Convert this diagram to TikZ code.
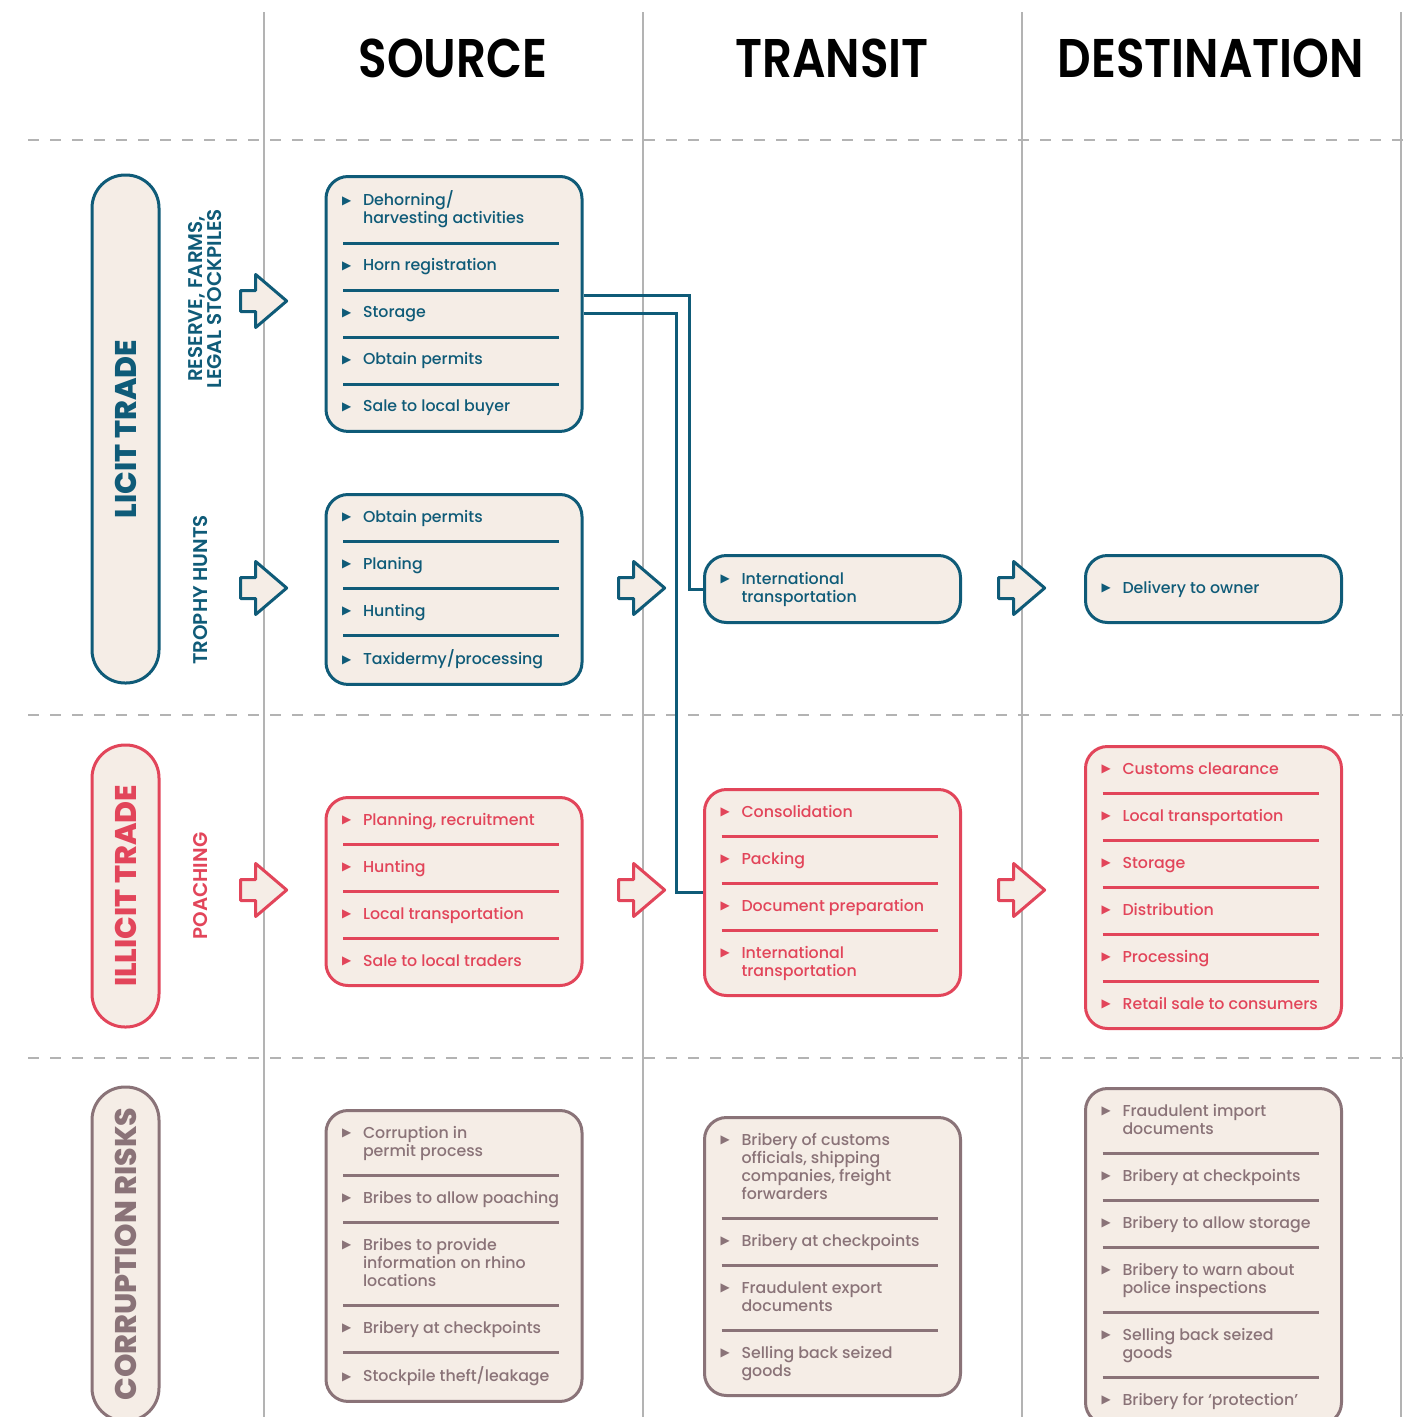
\documentclass[tikz,border=0pt]{standalone}
\usepackage{fontspec}
\setmainfont{Poppins}
\newfontfamily\itmfont{Poppins Medium}
\newfontfamily\semifont{Poppins SemiBold}
\newfontfamily\pillfont{Poppins ExtraBold}
\newfontfamily\headfont{Poppins SemiBold}[FakeStretch=0.86]
\newfontfamily\symfont{DejaVu Sans}
\usepackage{xcolor}
\usetikzlibrary{shapes.arrows,positioning}

\definecolor{licitblue}{HTML}{0F5B78}
\definecolor{illicitred}{HTML}{E2455A}
\definecolor{corruptmauve}{HTML}{8A7378}
\definecolor{boxfill}{HTML}{F5EDE6}
\definecolor{gridgray}{HTML}{B3B3B3}

% one pixel of the layout grid
\newdimen\px \px=0.02cm
\newcommand{\bul}{\raisebox{0.7pt}{\symfont\fontsize{6.8}{6.8}\selectfont ▶}}
\newcommand{\itmstrut}{\rule[-5\px]{0pt}{18\px}}
\newcommand{\itm}[1]{\nointerlineskip\vbox{\vskip14.5\px
  \hbox to 256\px{\hskip16\px\makebox[21\px][l]{\bul}%
    \parbox[t]{215\px}{\raggedright\setlength{\baselineskip}{18\px}\itmstrut#1\itmstrut}\hss}%
  \vskip14.5\px}}
\newcommand{\sep}{\nointerlineskip\vbox to 0pt{\vss\hbox{\hskip17\px\rule{216\px}{3\px}}\vss}}
\newcommand{\itms}[1]{\vbox{#1}}

\begin{document}
\begin{tikzpicture}[
  x=0.02cm, y=-0.02cm,
  font=\itmfont\fontsize{9}{11}\selectfont,
  colline/.style={draw=gridgray, line width=2\px},
  rowline/.style={draw=gridgray, line width=2\px, dash pattern=on 11\px off 11\px},
  head/.style={font=\headfont\fontsize{31}{31}\selectfont, text=black},
  pill/.style={draw=#1, text=#1, fill=boxfill, line width=3\px, rounded corners=33\px,
               minimum height=67\px, rotate=90, inner sep=0pt,
               font=\pillfont\fontsize{17}{17}\selectfont},
  sublbl/.style={text=#1, rotate=90, align=center,
                 font=\semifont\fontsize{11.3}{11}\selectfont},
  stepbox/.style={draw=#1, text=#1, fill=boxfill, line width=3\px, rounded corners=22\px,
                  inner sep=0pt, anchor=north},
  blockarr/.style={single arrow, draw=#1, fill=boxfill, line width=3\px, line join=round,
                   minimum height=46\px, single arrow head extend=16\px,
                   single arrow tip angle=81, inner xsep=0pt, inner ysep=9\px, anchor=tip},
  conn/.style={draw=licitblue, line width=3\px}
]
\useasboundingbox (0,0) rectangle (1408,1417);

% grid
\draw[colline] (264,12) -- (264,1417);
\draw[colline] (643,12) -- (643,1417);
\draw[colline] (1022,12) -- (1022,1417);
\draw[colline] (1401,12) -- (1401,1417);
\draw[rowline] (28,140) -- (1408,140);
\draw[rowline] (28,715) -- (1408,715);
\draw[rowline] (28,1058) -- (1408,1058);

\node[head] (hdsrc) at (453,58) {SOURCE};
\node[head] (hdtrn) at (832,58) {TRANSIT};
\node[head] (hddst) at (1211,58) {DESTINATION};

\node[pill=licitblue, minimum width=508\px] (pllicit) at (125.5,429) {LICIT TRADE};
\node[pill=illicitred, minimum width=282\px] (plillicit) at (125.5,886) {ILLICIT TRADE};
\node[pill=corruptmauve, minimum width=334\px] (plcorrupt) at (125.5,1254) {CORRUPTION RISKS};

\node[sublbl=licitblue] (lbres) at (205,299) {RESERVE, FARMS,\\LEGAL STOCKPILES};
\node[sublbl=licitblue] (lbtro) at (201,590) {TROPHY HUNTS};
\node[sublbl=illicitred] (lbpoa) at (201,886) {POACHING};

% source
\node[stepbox=licitblue] (srcres) at (454,175)
  {\itms{\itm{Dehorning/\\harvesting activities}\sep\itm{Horn registration}\sep
   \itm{Storage}\sep\itm{Obtain permits}\sep\itm{Sale to local buyer}}};
\node[stepbox=licitblue] (srctro) at (454,493)
  {\itms{\itm{Obtain permits}\sep\itm{Planing}\sep\itm{Hunting}\sep\itm{Taxidermy/processing}}};
\node[stepbox=illicitred] (srcpoa) at (454,796)
  {\itms{\itm{Planning, recruitment}\sep\itm{Hunting}\sep\itm{Local transportation}\sep
   \itm{Sale to local traders}}};
\node[stepbox=corruptmauve] (srccor) at (454,1109)
  {\itms{\itm{Corruption in\\permit process}\sep\itm{Bribes to allow poaching}\sep
   \itm{Bribes to provide\\information on rhino\\locations}\sep
   \itm{Bribery at checkpoints}\sep\itm{Stockpile theft/leakage}}};

% transit
\node[stepbox=licitblue, minimum height=67\px] (trnlic) at (832.5,554)
  {\itms{\itm{International\\transportation}}};
\node[stepbox=illicitred] (trnill) at (832.5,788)
  {\itms{\itm{Consolidation}\sep\itm{Packing}\sep\itm{Document preparation}\sep
   \itm{International\\transportation}}};
\node[stepbox=corruptmauve] (trncor) at (832.5,1116)
  {\itms{\itm{Bribery of customs\\officials, shipping\\companies, freight\\forwarders}\sep
   \itm{Bribery at checkpoints}\sep\itm{Fraudulent export\\documents}\sep
   \itm{Selling back seized\\goods}}};

% destination
\node[stepbox=licitblue, minimum height=67\px] (dstlic) at (1213.5,554)
  {\itms{\itm{Delivery to owner}}};
\node[stepbox=illicitred] (dstill) at (1213.5,745)
  {\itms{\itm{Customs clearance}\sep\itm{Local transportation}\sep\itm{Storage}\sep
   \itm{Distribution}\sep\itm{Processing}\sep\itm{Retail sale to consumers}}};
\node[stepbox=corruptmauve] (dstcor) at (1213.5,1087)
  {\itms{\itm{Fraudulent import\\documents}\sep\itm{Bribery at checkpoints}\sep
   \itm{Bribery to allow storage}\sep\itm{Bribery to warn about\\police inspections}\sep
   \itm{Selling back seized\\goods}\sep\itm{Bribery for ‘protection’}}};

\node[blockarr=licitblue] (arres) at (289,301) {};
\node[blockarr=licitblue] (artro) at (289,588) {};
\node[blockarr=illicitred] (arpoa) at (289,890) {};
\node[blockarr=licitblue] (artrnlic) at (667,588) {};
\node[blockarr=illicitred] (artrnill) at (667,890) {};
\node[blockarr=licitblue] (ardstlic) at (1047,588) {};
\node[blockarr=illicitred] (ardstill) at (1047,890) {};

\draw[conn] ([yshift=8\px]srcres.east) -| ([xshift=-14\px]trnlic.west) -- (trnlic.west);
\draw[conn] ([yshift=-10\px]srcres.east) -| ([xshift=-27\px]trnill.west) -- (trnill.west);

\end{tikzpicture}
\end{document}
